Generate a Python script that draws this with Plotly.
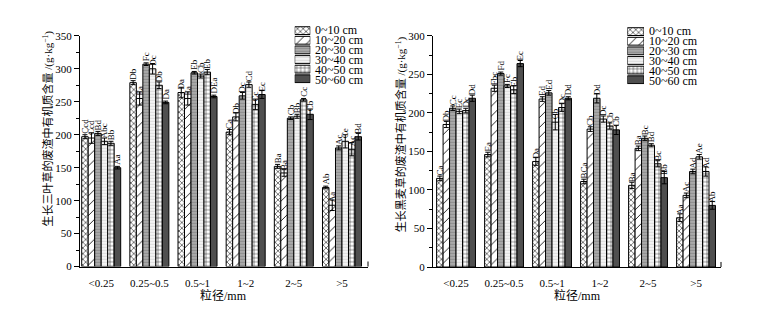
import plotly.graph_objects as go

# ---------------- data ----------------
categories = ["<0.25", "0.25~0.5", "0.5~1", "1~2", "2~5", ">5"]
series = ["0~10 cm", "10~20 cm", "20~30 cm", "30~40 cm", "40~50 cm", "50~60 cm"]

# clover (三叶草) organic matter, g/kg
clover_0_10 = [197, 279, 264, 204, 152, 120]
clover_10_20 = [195, 255, 255, 227, 142, 93]
clover_20_30 = [202, 307, 294, 259, 225, 180]
clover_30_40 = [190, 300, 289, 276, 228, 190]
clover_40_50 = [187, 275, 295, 246, 253, 178]
clover_50_60 = [150, 249, 258, 261, 231, 197]

clover_err_0_10 = [3, 3, 8, 4, 3, 2]
clover_err_10_20 = [8, 10, 10, 6, 5, 8]
clover_err_20_30 = [3, 2, 2, 5, 2, 3]
clover_err_30_40 = [5, 8, 3, 4, 3, 10]
clover_err_40_50 = [3, 5, 4, 8, 2, 10]
clover_err_50_60 = [2, 2, 2, 6, 8, 5]

clover_lbl_0_10 = ["Ccd", "Db", "Da", "Ca", "Ba", "Ab"]
clover_lbl_10_20 = ["Ccd", "Ea", "Ea", "Db", "Ba", "Aa"]
clover_lbl_20_30 = ["Bd", "Fc", "Eb", "Dc", "Cb", "Ac"]
clover_lbl_30_40 = ["Abc", "Dc", "Cb", "Cd", "Bb", "Ce"]
clover_lbl_40_50 = ["Bb", "Db", "Eb", "Cc", "Cc", "Ac"]
clover_lbl_50_60 = ["Aa", "Da", "DEa", "Ec", "Cb", "Bd"]

# ryegrass (黑麦草) organic matter, g/kg
rye_0_10 = [115, 146, 137, 111, 106, 64]
rye_10_20 = [185, 232, 218, 179, 154, 93]
rye_20_30 = [206, 251, 226, 219, 167, 124]
rye_30_40 = [202, 235, 188, 192, 158, 143]
rye_40_50 = [203, 230, 207, 183, 134, 124]
rye_50_60 = [219, 264, 219, 178, 116, 80]

rye_err_0_10 = [3, 3, 5, 3, 4, 5]
rye_err_10_20 = [4, 4, 3, 3, 3, 3]
rye_err_20_30 = [3, 2, 3, 6, 3, 3]
rye_err_30_40 = [3, 2, 10, 4, 2, 3]
rye_err_40_50 = [3, 5, 5, 4, 4, 6]
rye_err_50_60 = [4, 4, 2, 6, 8, 5]

rye_lbl_0_10 = ["Ca", "Ea", "Da", "BCa", "Ba", "Aa"]
rye_lbl_10_20 = ["Db", "Fbc", "Ed", "Cb", "Ba", "Ac"]
rye_lbl_20_30 = ["Cc", "Fd", "Ed", "Dd", "Bc", "Ad"]
rye_lbl_30_40 = ["Ec", "Fc", "Cb", "Dc", "Bd", "Ae"]
rye_lbl_40_50 = ["Dc", "Eb", "Dc", "Cb", "Bc", "Ad"]
rye_lbl_50_60 = ["Dd", "Ec", "Dd", "Cb", "Bb", "Ab"]

clover_vals = [clover_0_10, clover_10_20, clover_20_30, clover_30_40, clover_40_50, clover_50_60]
clover_errs = [clover_err_0_10, clover_err_10_20, clover_err_20_30, clover_err_30_40, clover_err_40_50, clover_err_50_60]
clover_lbls = [clover_lbl_0_10, clover_lbl_10_20, clover_lbl_20_30, clover_lbl_30_40, clover_lbl_40_50, clover_lbl_50_60]
rye_vals = [rye_0_10, rye_10_20, rye_20_30, rye_30_40, rye_40_50, rye_50_60]
rye_errs = [rye_err_0_10, rye_err_10_20, rye_err_20_30, rye_err_30_40, rye_err_40_50, rye_err_50_60]
rye_lbls = [rye_lbl_0_10, rye_lbl_10_20, rye_lbl_20_30, rye_lbl_30_40, rye_lbl_40_50, rye_lbl_50_60]

# ---------------- styles ----------------
pat_shape = ["x", "/", "-", "-", "+", ""]
pat_fg = ["black", "black", "#8a8a8a", "#d8d8d8", "black", "#4f4f4f"]
pat_bg = ["white", "white", "#a9a9a9", "#f3f3f3", "white", "#4f4f4f"]
pat_size = [4, 7, 3, 3, 4, 4]
pat_sol = [0.25, 0.12, 0.3, 0.3, 0.2, 0.3]

SERIF = "Liberation Serif, Times New Roman, Noto Sans CJK SC"
pos = list(range(len(categories)))
ticktext = [c.replace("<", "&lt;").replace(">", "&gt;") for c in categories]

fig = go.Figure()


def marker_style(i):
    return dict(color=pat_bg[i], line=dict(color="black", width=1),
                pattern=dict(shape=pat_shape[i], fgcolor=pat_fg[i], bgcolor=pat_bg[i],
                             size=pat_size[i], solidity=pat_sol[i], fillmode="replace"))


def add_panel(vals, errs, lbls, xa, ya):
    for i in range(len(series)):
        fig.add_trace(go.Bar(
            x=pos, y=vals[i], name=series[i], xaxis=xa, yaxis=ya,
            marker=marker_style(i),
            error_y=dict(type="data", array=errs[i], color="black", thickness=1, width=2.5),
            text=lbls[i], textposition="outside", textangle=-90, constraintext="none",
            textfont=dict(family=SERIF, size=9, color="black"), cliponaxis=False,
            showlegend=False, hoverinfo="skip",
        ))


add_panel(clover_vals, clover_errs, clover_lbls, "x", "y")
add_panel(rye_vals, rye_errs, rye_lbls, "x2", "y2")

# legend swatches: one small horizontal bar per series, sharing one offset group
for xa, ya in (("x3", "y3"), ("x4", "y4")):
    for i in range(len(series)):
        fig.add_trace(go.Bar(
            y=[series[i]], x=[1], orientation="h", xaxis=xa, yaxis=ya,
            offsetgroup="legend_" + xa, marker=marker_style(i),
            showlegend=False, hoverinfo="skip",
        ))

W, H = 762, 317


def px_x(v):
    return v / W


def px_y(v):
    return 1 - v / H


xcommon = dict(tickvals=pos, ticktext=ticktext, showline=True, linecolor="black", linewidth=1,
               ticks="", showgrid=False, zeroline=False, mirror=False,
               tickfont=dict(family=SERIF, size=11, color="black"), ticklabelstandoff=6)
ycommon = dict(showline=True, linecolor="black", linewidth=1, ticks="outside", ticklen=5,
               tickcolor="black", tickwidth=1, showgrid=False, zeroline=False, dtick=50,
               tickfont=dict(family=SERIF, size=11, color="black"),
               minor=dict(dtick=25, ticks="outside", ticklen=3, tickcolor="black", tickwidth=1))

legcommon_x = dict(range=[0, 1], visible=False, fixedrange=True)
legcommon_y = dict(autorange="reversed", visible=False, categoryorder="array", categoryarray=series)

fig.update_layout(
    width=W, height=H, margin=dict(l=0, r=0, t=0, b=0),
    paper_bgcolor="white", plot_bgcolor="white",
    barmode="group", bargap=0.19, bargroupgap=0,
    xaxis=dict(domain=[px_x(72), px_x(360)], range=[-0.44, 5.54], anchor="y", **xcommon),
    yaxis=dict(domain=[px_y(262.5), px_y(22.7)], range=[0, 350], anchor="x", **ycommon),
    xaxis2=dict(domain=[px_x(425), px_x(713)], range=[-0.48, 5.52], anchor="y2", **xcommon),
    yaxis2=dict(domain=[px_y(263), px_y(22.7)], range=[0, 300], anchor="x2", **ycommon),
    xaxis3=dict(domain=[px_x(286.7), px_x(302.3)], anchor="y3", **legcommon_x),
    yaxis3=dict(domain=[px_y(72.3), px_y(12.3)], anchor="x3", **legcommon_y),
    xaxis4=dict(domain=[px_x(619.3), px_x(636)], anchor="y4", **legcommon_x),
    yaxis4=dict(domain=[px_y(73.3), px_y(13.3)], anchor="x4", **legcommon_y),
    font=dict(family=SERIF, color="black"),
)

# legend texts: one block per panel; small base size gives 10 px line pitch,
# while each line is drawn at 12 px
legend_block = "<br>".join("<span style='font-size:12px'>%s</span>" % s for s in series)
for x0, yc in ((305, 42.3), (639, 43.3)):
    fig.add_annotation(text=legend_block, xref="paper", yref="paper", x=px_x(x0), y=px_y(yc),
                       showarrow=False, xanchor="left", yanchor="middle", align="left",
                       font=dict(family=SERIF, size=10 / 1.3, color="black"))

# axis-end ticks
for xr, yr in (("x domain", "y domain"), ("x2 domain", "y2 domain")):
    fig.add_shape(type="line", xref=xr, yref=yr, x0=1, x1=1, y0=0, y1=0.022,
                  line=dict(color="black", width=1))

# titles
fig.add_annotation(text="生长三叶草的废渣中有机质含量 /(g·kg<sup>−1</sup>)", textangle=-90,
                   xref="paper", yref="paper", x=px_x(40), y=px_y(119), showarrow=False,
                   xanchor="center", yanchor="middle", font=dict(family=SERIF, size=11, color="black"))
fig.add_annotation(text="生长黑麦草的废渣中有机质含量 /(g·kg<sup>−1</sup>)", textangle=-90,
                   xref="paper", yref="paper", x=px_x(393), y=px_y(125), showarrow=False,
                   xanchor="center", yanchor="middle", font=dict(family=SERIF, size=11, color="black"))
fig.add_annotation(text="粒径/mm", xref="paper", yref="paper", x=px_x(215), y=px_y(293),
                   showarrow=False, xanchor="center", yanchor="middle",
                   font=dict(family=SERIF, size=12, color="black"))
fig.add_annotation(text="粒径/mm", xref="paper", yref="paper", x=px_x(569), y=px_y(293),
                   showarrow=False, xanchor="center", yanchor="middle",
                   font=dict(family=SERIF, size=12, color="black"))

fig.write_html("out.html")
